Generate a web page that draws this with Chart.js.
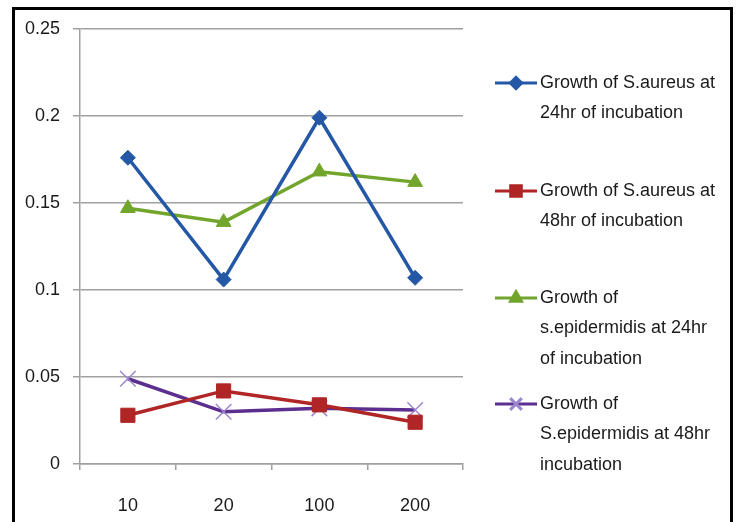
<!DOCTYPE html>
<html>
<head>
<meta charset="utf-8">
<script src="https://cdn.jsdelivr.net/npm/chart.js@4"></script>
<style>
  html, body { margin: 0; padding: 0; background: #fff; }
  #wrap { width: 737px; height: 522px; position: relative; }
</style>
</head>
<body>
<div id="wrap"><canvas id="c" width="737" height="522"></canvas></div>
<script>
// ---- data ----
const categories = ["10", "20", "100", "200"];
const aureus24 = [0.176, 0.106, 0.199, 0.107];
const aureus48 = [0.028, 0.042, 0.034, 0.024];
const epi24 = [0.147, 0.139, 0.168, 0.162];
const epi48 = [0.049, 0.030, 0.032, 0.031];
const seriesNames = [
  "Growth of S.aureus at 24hr of incubation",
  "Growth of S.aureus at 48hr of incubation",
  "Growth of s.epidermidis at 24hr of incubation",
  "Growth of S.epidermidis at 48hr incubation"
];
const legendLines = [
  ["Growth of S.aureus at", "24hr of incubation"],
  ["Growth of S.aureus at", "48hr of incubation"],
  ["Growth of", "s.epidermidis at 24hr", "of incubation"],
  ["Growth of", "S.epidermidis at 48hr", "incubation"]
];
const yTicks = [0, 0.05, 0.1, 0.15, 0.2, 0.25];

const colors = ["#2458a6", "#b02525", "#72a52c", "#5b2e90"];
const pointColors = ["#2458a6", "#b02525", "#72a52c", "#9c86cc"];
const pointStyles = ["rectRot", "rect", "triangle", "crossRot"];
const pointRadii = [7.5, 10, 8.5, 11];

const FONT = "'Liberation Sans Narrow', 'Liberation Sans', Arial, sans-serif";

const legendPlugin = {
  id: 'sideLegend',
  beforeDraw(chart) {
    const ctx = chart.ctx;
    ctx.save();
    ctx.strokeStyle = "#000";
    ctx.lineWidth = 3;
    ctx.beginPath();
    ctx.moveTo(13.5, 522);
    ctx.lineTo(13.5, 8.5);
    ctx.lineTo(731.5, 8.5);
    ctx.lineTo(731.5, 522);
    ctx.stroke();
    ctx.restore();
  },
  afterDraw(chart) {
    const ctx = chart.ctx;
    const itemY = [83, 191, 298, 404];
    const lineH = 30.5;
    ctx.save();
    chart.data.datasets.forEach((ds, i) => {
      const y = itemY[i];
      ctx.strokeStyle = ds.borderColor;
      ctx.lineWidth = 3;
      ctx.beginPath();
      ctx.moveTo(495, y);
      ctx.lineTo(537, y);
      ctx.stroke();
      ctx.fillStyle = ds.pointBackgroundColor;
      ctx.strokeStyle = ds.pointBorderColor;
      Chart.helpers.drawPoint(ctx, {
        pointStyle: ds.pointStyle,
        radius: ds.pointRadius * 0.75,
        borderWidth: ds.pointBorderWidth
      }, 516, y);
      ctx.fillStyle = "#1a1a1a";
      ctx.font = "18px " + FONT;
      ctx.textBaseline = "middle";
      ctx.textAlign = "left";
      legendLines[i].forEach((t, k) => ctx.fillText(t, 540, y + k * lineH));
    });
    ctx.restore();
  }
};

const seriesData = [aureus24, aureus48, epi24, epi48];
const datasets = seriesData.map((d, i) => ({
  label: seriesNames[i],
  data: d,
  borderColor: colors[i],
  backgroundColor: pointColors[i],
  pointBackgroundColor: pointColors[i],
  pointBorderColor: pointColors[i],
  pointBorderWidth: pointStyles[i] === 'crossRot' ? 1.5 : 1,
  pointStyle: pointStyles[i],
  pointRadius: pointRadii[i],
  pointHoverRadius: pointRadii[i],
  borderWidth: 3.5,
  tension: 0
}));

new Chart(document.getElementById('c'), {
  type: 'line',
  data: { labels: categories, datasets },
  options: {
    responsive: false,
    animation: false,
    devicePixelRatio: 1,
    layout: { padding: { left: 0, right: 274, top: 29, bottom: 0 } },
    plugins: { legend: { display: false }, tooltip: { enabled: false } },
    scales: {
      x: {
        offset: true,
        grid: { drawOnChartArea: false, drawTicks: true, tickLength: 6, color: "#a0a0a0", lineWidth: 1.5, offset: true },
        border: { color: "#a0a0a0", width: 1.5 },
        ticks: { color: "#1a1a1a", font: { size: 18, family: FONT }, padding: 25 },
        afterFit(scale) { scale.height = 58; }
      },
      y: {
        min: 0, max: 0.25,
        afterBuildTicks(scale) { scale.ticks = yTicks.map(v => ({ value: v })); },
        grid: { color: "#a0a0a0", lineWidth: 1.5, tickLength: 7, drawTicks: true },
        border: { color: "#a0a0a0", width: 1.5 },
        ticks: {
          color: "#1a1a1a", font: { size: 18, family: FONT }, padding: 13,
          callback: v => String(Number(v.toFixed(2)))
        },
        afterFit(scale) { scale.width = 80; }
      }
    }
  },
  plugins: [legendPlugin]
});
</script>
</body>
</html>
